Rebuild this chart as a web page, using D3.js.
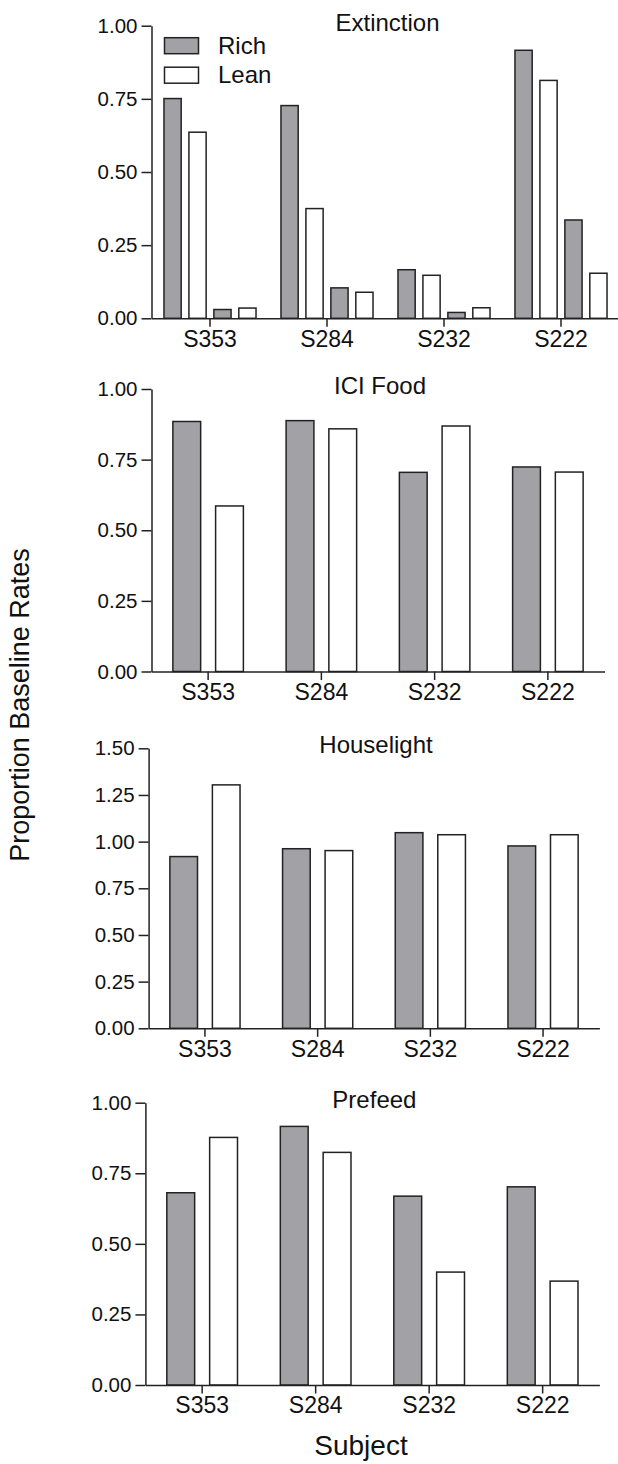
<!DOCTYPE html>
<html>
<head>
<meta charset="utf-8">
<script src="https://cdn.jsdelivr.net/npm/d3@7"></script>
<style>
  body { margin: 0; background: #fff; }
  text { font-family: "Liberation Sans", Arial, sans-serif; fill: #111; }
</style>
</head>
<body>
<div id="graph"></div>
<script>

var subjects = ["S353", "S284", "S232", "S222"];

// Extinction has two rich/lean pairs per subject
var extRich1 = [0.751, 0.727, 0.166, 0.916];
var extLean1 = [0.636, 0.375, 0.147, 0.813];
var extRich2 = [0.030, 0.104, 0.020, 0.336];
var extLean2 = [0.035, 0.089, 0.036, 0.154];

var iciRich = [0.885, 0.888, 0.705, 0.724];
var iciLean = [0.586, 0.859, 0.869, 0.706];

var houseRich = [0.920, 0.962, 1.048, 0.977];
var houseLean = [1.304, 0.952, 1.037, 1.037];

var prefeedRich = [0.681, 0.916, 0.669, 0.702];
var prefeedLean = [0.877, 0.824, 0.400, 0.368];

var yTicks1 = [0, 0.25, 0.5, 0.75, 1.0];
var yTicks15 = [0, 0.25, 0.5, 0.75, 1.0, 1.25, 1.5];

var legendLabels = ["Rich", "Lean"];

var W = 618, H = 1464;
var RICH = "#a2a1a6", LEAN = "#ffffff", INK = "#222";

var panels = [
    { title: "Extinction", series: [extRich1, extLean1, extRich2, extLean2], fills: [RICH, LEAN, RICH, LEAN],
      ticks: yTicks1, x: [151.5, 619.5], y: [318.3, 25.7], pad: 0.31, legend: true },
    { title: "ICI Food", series: [iciRich, iciLean], fills: [RICH, LEAN],
      ticks: yTicks1, x: [151.5, 604.5], y: [671.5, 389], pad: 0.35 },
    { title: "Houselight", series: [houseRich, houseLean], fills: [RICH, LEAN],
      ticks: yTicks15, x: [148.6, 599.4], y: [1028.3, 748.3], pad: 0.35 },
    { title: "Prefeed", series: [prefeedRich, prefeedLean], fills: [RICH, LEAN],
      ticks: yTicks1, x: [145.4, 599.4], y: [1385, 1102.7], pad: 0.35 }
];

var svg = d3.select("#graph").append("svg")
    .attr("width", W)
    .attr("height", H);

panels.forEach(function (p) {
    var g = svg.append("g");

    var x0 = d3.scaleBand()
        .domain(subjects)
        .range(p.x)
        .padding(0);

    var x1 = d3.scaleBand()
        .domain(d3.range(p.series.length))
        .range([0, x0.bandwidth()])
        .paddingInner(p.pad)
        .paddingOuter(0.5);

    var y = d3.scaleLinear()
        .domain([0, d3.max(p.ticks)])
        .range(p.y);

    // bars
    p.series.forEach(function (vals, si) {
        g.selectAll(".bar" + si)
            .data(vals)
            .enter().append("rect")
            .attr("x", (d, i) => x0(subjects[i]) + x1(si))
            .attr("width", x1.bandwidth())
            .attr("y", d => y(d))
            .attr("height", d => y(0) - y(d))
            .attr("fill", p.fills[si])
            .attr("stroke", INK)
            .attr("stroke-width", 1.5);
    });

    // x axis
    var xa = g.append("g")
        .attr("transform", "translate(0," + y(0) + ")")
        .call(d3.axisBottom(x0).tickSize(8.5).tickPadding(3.5).tickSizeOuter(0));
    xa.selectAll("text").style("font-size", "23px");

    // y axis
    var ya = g.append("g")
        .attr("transform", "translate(" + p.x[0] + ",0)")
        .call(d3.axisLeft(y).tickValues(p.ticks).tickFormat(d3.format(".2f"))
            .tickSize(10).tickPadding(4).tickSizeOuter(0));
    ya.selectAll("text").style("font-size", "20.5px");

    g.selectAll(".domain, .tick line")
        .attr("stroke", INK)
        .attr("stroke-width", 1.5);

    // title
    g.append("text")
        .attr("x", (p.x[0] + p.x[1]) / 2 + 2)
        .attr("y", y(d3.max(p.ticks)) + 5)
        .attr("text-anchor", "middle")
        .style("font-size", "24px")
        .text(p.title);

    if (p.legend) {
        var lg = g.append("g").attr("transform", "translate(164.5,37.7)");
        legendLabels.forEach(function (lab, i) {
            lg.append("rect")
                .attr("x", 0)
                .attr("y", i * 29.5)
                .attr("width", 34)
                .attr("height", 16)
                .attr("fill", p.fills[i])
                .attr("stroke", INK)
                .attr("stroke-width", 1.5);
            lg.append("text")
                .attr("x", 53.5)
                .attr("y", i * 29.5 + 15.8)
                .style("font-size", "24px")
                .text(lab);
        });
    }
});

// shared axis labels
svg.append("text")
    .attr("transform", "translate(29,705) rotate(-90)")
    .attr("text-anchor", "middle")
    .style("font-size", "27px")
    .text("Proportion Baseline Rates");

svg.append("text")
    .attr("x", 361)
    .attr("y", 1455)
    .attr("text-anchor", "middle")
    .style("font-size", "28px")
    .text("Subject");

</script>
</body>
</html>
